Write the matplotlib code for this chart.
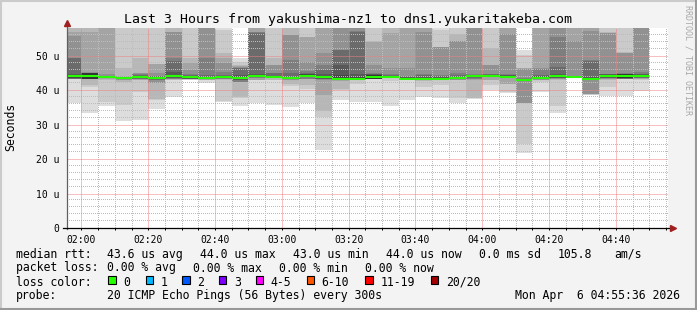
import numpy as np
import matplotlib
matplotlib.use("Agg")
import matplotlib.pyplot as plt

plt.rcParams['font.family'] = ['DejaVu Sans Mono']

W, H = 697, 310

## ------------- data -----------------
# 5 minute steps, minutes after 00:00 (bar start), last 3 hours
bar_start = [115 + 5 * i for i in range(35)]
# 20 sorted ping rtt values per step (micro seconds)
pings = [
    [36.4, 43.3, 43.3, 43.35, 43.35, 43.4, 43.4, 43.45, 43.45, 44.1, 44.3, 44.4, 44.7, 49.3, 49.4, 55.8, 56.9, 60, 60, 60],
    [33.3, 40.9, 41.4, 43.3, 43.3, 43.35, 43.35, 43.4, 43.4, 43.4, 44.9, 45.0, 45.05, 45.1, 45.15, 45.2, 57.0, 60, 60, 60],
    [35.3, 36.6, 43.0, 43.4, 43.6, 43.7, 43.75, 43.8, 43.8, 43.8, 43.9, 44.0, 44.1, 44.2, 44.3, 44.8, 60, 60, 60, 60],
    [31.1, 35.8, 42.4, 43.0, 43.1, 43.2, 43.25, 43.3, 43.35, 43.4, 43.5, 43.6, 43.7, 43.8, 43.9, 44.0, 44.1, 46.4, 60, 60],
    [31.4, 39.6, 43.0, 43.1, 43.2, 43.3, 43.4, 43.5, 43.6, 43.7, 44.0, 44.1, 44.2, 44.4, 44.6, 44.9, 45.0, 49.4, 60, 60],
    [34.6, 37.3, 37.5, 42.0, 42.2, 43.0, 43.1, 43.2, 43.3, 43.35, 43.55, 43.6, 43.7, 44.1, 44.2, 45.1, 47.6, 47.7, 60, 60],
    [38.2, 43.0, 43.1, 43.2, 43.3, 43.4, 43.5, 43.6, 43.8, 44.1, 44.4, 44.5, 45.2, 48.4, 49.3, 56.9, 57.0, 60, 60, 60],
    [43.0, 43.1, 43.15, 43.2, 43.25, 43.3, 43.35, 43.4, 43.5, 43.6, 44.1, 44.2, 44.3, 44.4, 44.6, 45.9, 47.9, 49.3, 60, 60],
    [42.1, 43.0, 43.05, 43.1, 43.15, 43.2, 43.25, 43.3, 43.35, 43.4, 43.5, 43.6, 43.8, 44.5, 49.3, 60, 60, 60, 60, 60],
    [36.7, 36.8, 43.0, 43.2, 43.3, 43.4, 43.5, 43.6, 43.7, 43.8, 44.1, 44.2, 44.3, 44.4, 45.4, 47.9, 49.3, 50.8, 57.6, 60],
    [35.3, 37.9, 37.95, 42.4, 42.45, 42.5, 43.0, 43.1, 43.2, 43.3, 43.6, 43.9, 44.5, 46.4, 46.5, 46.8, 47.2, 47.4, 48.3, 49.5],
    [36.3, 43.0, 43.05, 43.1, 43.6, 43.7, 43.8, 43.9, 44.0, 44.1, 44.4, 44.5, 44.7, 56.7, 56.8, 56.9, 60, 60, 60, 60],
    [35.8, 43.0, 43.05, 43.7, 43.75, 43.8, 43.82, 43.85, 43.88, 43.9, 44.0, 44.1, 44.2, 44.9, 45.0, 47.3, 47.4, 49.3, 60, 60],
    [35.1, 41.2, 41.8, 43.0, 43.1, 43.15, 43.2, 43.25, 43.3, 43.4, 43.5, 43.7, 44.0, 45.0, 48.8, 56.0, 56.1, 60, 60, 60],
    [36.3, 40.4, 41.6, 43.3, 43.35, 43.4, 43.95, 44.0, 44.05, 44.1, 44.4, 44.6, 44.8, 45.0, 45.5, 48.3, 55.4, 55.5, 60, 60],
    [22.7, 32.2, 34.1, 38.7, 43.0, 43.2, 43.3, 43.4, 43.5, 43.7, 44.0, 44.1, 44.7, 45.9, 47.4, 50.8, 60, 60, 60, 60],
    [37.3, 40.2, 40.3, 42.8, 42.85, 42.9, 42.92, 42.95, 42.98, 43.0, 43.4, 44.4, 47.4, 51.6, 51.7, 60, 60, 60, 60, 60],
    [36.7, 41.7, 43.0, 43.05, 43.08, 43.1, 43.12, 43.15, 43.18, 43.2, 43.6, 44.0, 44.6, 57.0, 57.1, 60, 60, 60, 60, 60],
    [36.7, 43.3, 43.32, 43.34, 43.36, 43.37, 43.38, 43.39, 43.4, 43.4, 44.4, 44.5, 44.6, 44.8, 45.0, 47.4, 54.1, 54.2, 60, 60],
    [35.5, 42.8, 43.5, 43.55, 43.6, 43.65, 43.7, 43.75, 43.8, 43.85, 43.95, 44.1, 44.2, 44.5, 44.6, 46.4, 56.6, 60, 60, 60],
    [37.3, 42.9, 42.92, 42.94, 42.95, 42.96, 42.97, 42.98, 42.99, 43.0, 43.3, 43.5, 43.8, 44.0, 44.3, 46.4, 60, 60, 60, 60],
    [38.1, 41.0, 42.8, 42.85, 42.9, 42.95, 43.0, 43.03, 43.06, 43.1, 43.3, 43.6, 44.0, 44.4, 44.6, 57.0, 60, 60, 60, 60],
    [37.9, 41.6, 42.95, 42.96, 42.97, 42.98, 42.99, 43.0, 43.0, 43.0, 43.4, 43.7, 44.0, 44.3, 44.5, 52.6, 52.65, 52.7, 57.5, 60],
    [36.3, 37.7, 43.0, 43.05, 43.1, 43.15, 43.2, 43.25, 43.3, 43.4, 43.5, 43.7, 44.0, 44.4, 45.0, 54.3, 54.4, 56.5, 60, 60],
    [37.6, 37.7, 37.75, 43.0, 43.2, 43.4, 43.6, 43.8, 43.9, 44.1, 44.4, 44.45, 44.5, 44.55, 44.7, 60, 60, 60, 60, 60],
    [40.1, 41.6, 42.9, 43.0, 43.9, 43.95, 44.0, 44.02, 44.05, 44.1, 44.4, 44.5, 44.55, 44.6, 44.7, 47.3, 47.4, 52.2, 60, 60],
    [39.3, 39.6, 41.7, 41.8, 43.6, 43.65, 43.7, 43.72, 43.75, 43.8, 44.0, 44.2, 44.4, 44.5, 44.7, 56.3, 60, 60, 60, 60],
    [21.7, 24.4, 36.3, 36.35, 36.4, 42.9, 42.95, 43.0, 43.0, 43.0, 43.1, 43.2, 43.3, 43.4, 43.5, 46.3, 46.35, 46.4, 50.3, 51.7],
    [39.5, 42.4, 43.0, 43.05, 43.1, 43.15, 43.2, 43.25, 43.3, 43.4, 43.5, 43.8, 44.1, 44.5, 46.3, 46.4, 60, 60, 60, 60],
    [33.4, 35.5, 43.0, 43.3, 43.4, 43.5, 43.6, 43.7, 43.9, 44.1, 44.4, 44.5, 44.6, 46.9, 55.6, 60, 60, 60, 60, 60],
    [43.5, 43.55, 43.6, 43.65, 43.7, 43.72, 43.75, 43.8, 43.82, 43.85, 43.95, 44.0, 44.1, 44.2, 44.3, 54.2, 60, 60, 60, 60],
    [38.7, 38.75, 38.8, 38.85, 38.9, 43.0, 43.1, 43.15, 43.2, 43.3, 43.5, 43.7, 44.0, 48.6, 48.7, 57.3, 60, 60, 60, 60],
    [38.4, 41.1, 43.0, 43.3, 43.4, 43.5, 43.6, 43.7, 43.9, 44.1, 44.4, 44.5, 44.6, 44.7, 44.8, 56.7, 56.75, 56.8, 60, 60],
    [38.4, 43.3, 43.32, 43.34, 43.36, 43.38, 43.4, 43.44, 43.47, 43.5, 44.7, 44.75, 44.8, 44.85, 44.9, 50.9, 50.95, 51.0, 60, 60],
    [39.7, 43.0, 43.2, 43.4, 43.5, 43.6, 43.7, 43.8, 43.9, 44.0, 44.4, 44.5, 44.6, 44.8, 45.2, 60, 60, 60, 60, 60],
]
step = 5
t_start, t_end = 115.6, 295.6          # 01:55:36 .. 04:55:36
ymax = 58.1
time_ticks = [120, 140, 160, 180, 200, 220, 240, 260, 280]
time_labels = ['02:00', '02:20', '02:40', '03:00', '03:20', '03:40', '04:00', '04:20', '04:40']
rtt_ticks = [0, 10, 20, 30, 40, 50]
rtt_labels = ['0', '10 u', '20 u', '30 u', '40 u', '50 u']

loss_labels = ['0', '1', '2', '3', '4-5', '6-10', '11-19', '20/20']
loss_colors = ['#26ff00', '#00b8ff', '#0059ff', '#7e00ff', '#ff00ff', '#ff5500', '#ff0000', '#a10000']
loss_x = [108.3, 145.7, 182.3, 219, 255.7, 306.7, 365.3, 430.7]

## ------------- the plot -----------------
fig = plt.figure(figsize=(W / 100, H / 100), dpi=100, facecolor='#f3f3f3')
ax_w, ax_h = 668 - 66.7, 200
ax = fig.add_axes([66.7 / W, 1 - 228 / H, ax_w / W, ax_h / H])
ax.set_facecolor('white')

P = np.array(pings)
x0 = np.array(bar_start, dtype=float)
# smoke: pairs (k, 21-k), darker towards the middle
for k in range(10):
    grey = int(190 / 10 * (10 - (k + 1))) + 50
    col = '#%02x%02x%02x' % (grey, grey, grey)
    lo = P[:, k]
    hi = P[:, 19 - k]
    ax.bar(x0, hi - lo, width=step, bottom=lo, align='edge', color=col,
           linewidth=0, antialiased=False, zorder=1)

# minor grid: one pixel dot every second pixel, on top of the smoke
px_x = (t_end - t_start) / ax_w
px_y = ymax / ax_h
xs_dots = np.arange(t_start, t_end, 2 * px_x)
ys_dots = np.arange(0, ymax, 2 * px_y)

for y in np.arange(2, ymax, 2):
    if y % 10 != 0:
        ax.plot(xs_dots, np.full_like(xs_dots, y), ',', color='#bcbcbc', zorder=2)
for t in np.arange(120, t_end, 5):
    if t % 20 != 0:
        ax.plot(np.full_like(ys_dots, t), ys_dots, ',', color='#bcbcbc', zorder=2)

# major grid, red dotted
mkw = dict(color='#f08080', lw=0.72, ls=(0, (1, 1)), zorder=2)
for y in rtt_ticks[1:]:
    ax.axhline(y, **mkw)
for t in time_ticks:
    ax.axvline(t, **mkw)

# median
med = np.median(P, axis=1)
ax.hlines(med, x0, x0 + step, color=loss_colors[0], lw=1.5, zorder=3)

ax.set_xlim(t_start, t_end)
ax.set_ylim(0, ymax)
for s in ax.spines.values():
    s.set_visible(False)

ax.set_xticks(time_ticks)
ax.set_xticklabels(time_labels, fontsize=7)
ax.set_xticks(np.arange(120, t_end, 5), minor=True)
ax.tick_params(axis='x', which='both', direction='out', length=1.5, width=0.72, pad=3.5, color='black')
ax.set_yticks(rtt_ticks)
ax.set_yticklabels(rtt_labels, fontsize=7)
ax.tick_params(axis='y', which='both', length=0, pad=5.5)

# axis lines with arrows
ax.plot([t_start, t_start], [-0.3, ymax + 1.2], color='#606060', lw=0.9, clip_on=False, zorder=4)
ax.plot([t_start - 1.2, t_end + 1.3], [0, 0], color='black', lw=0.9, clip_on=False, zorder=4)
ax.plot([t_start], [ymax + 1.5], marker='^', ms=4.5, color='#a02020', mec='#a02020', clip_on=False, zorder=5)
ax.plot([t_end + 1.4], [0], marker='>', ms=4.5, color='#a02020', mec='#a02020', clip_on=False, zorder=5)

def ftext(x, y, s, **kw):
    kw.setdefault('fontsize', 8.3)
    kw.setdefault('va', 'center')
    fig.text(x / W, 1 - y / H, s, **kw)

ftext(347.7, 19, 'Last 3 Hours from yakushima-nz1 to dns1.yukaritakeba.com', fontsize=9.5, ha='center')
ftext(11, 127, 'Seconds', rotation=90, ha='center')
ftext(688, 60, 'RRDTOOL / TOBI OETIKER', rotation=270, ha='center', fontsize=6, color='#a8a8a8')

ftext(16, 254.3, 'median rtt:')
for x, s in zip([106.7, 200, 293.3, 385.7, 479, 558, 614],
                ['43.6 us avg', '44.0 us max', '43.0 us min', '44.0 us now', '0.0 ms sd', '105.8', 'am/s']):
    ftext(x, 254.3, s)
ftext(16, 268, 'packet loss:')
for x, s in zip([106.7, 193.3, 279, 365], ['0.00 % avg', '0.00 % max', '0.00 % min', '0.00 % now']):
    ftext(x, 268, s)
ftext(16, 282, 'loss color:')
for x, s, c in zip(loss_x, loss_labels, loss_colors):
    fig.patches.append(plt.Rectangle((x / W, 1 - 284 / H), 7.4 / W, 7.6 / H, transform=fig.transFigure,
                                     facecolor=c, edgecolor='black', lw=0.8))
    ftext(x + 15, 282, s)
ftext(16, 296, 'probe:')
ftext(106.7, 296, '20 ICMP Echo Pings (56 Bytes) every 300s')
ftext(680, 296, 'Mon Apr  6 04:55:36 2026', ha='right')

# 3d frame of the canvas
fig.add_artist(plt.Line2D([0, 1], [1 - 1 / H, 1 - 1 / H], transform=fig.transFigure, color='#cbcbcb', lw=1.5))
fig.add_artist(plt.Line2D([1 / W, 1 / W], [0, 1], transform=fig.transFigure, color='#cbcbcb', lw=1.5))
fig.add_artist(plt.Line2D([0, 1], [1 / H, 1 / H], transform=fig.transFigure, color='#999999', lw=1.5))
fig.add_artist(plt.Line2D([1 - 1 / W, 1 - 1 / W], [0, 1], transform=fig.transFigure, color='#999999', lw=1.5))

fig.savefig('out.png', dpi=100, facecolor=fig.get_facecolor())
